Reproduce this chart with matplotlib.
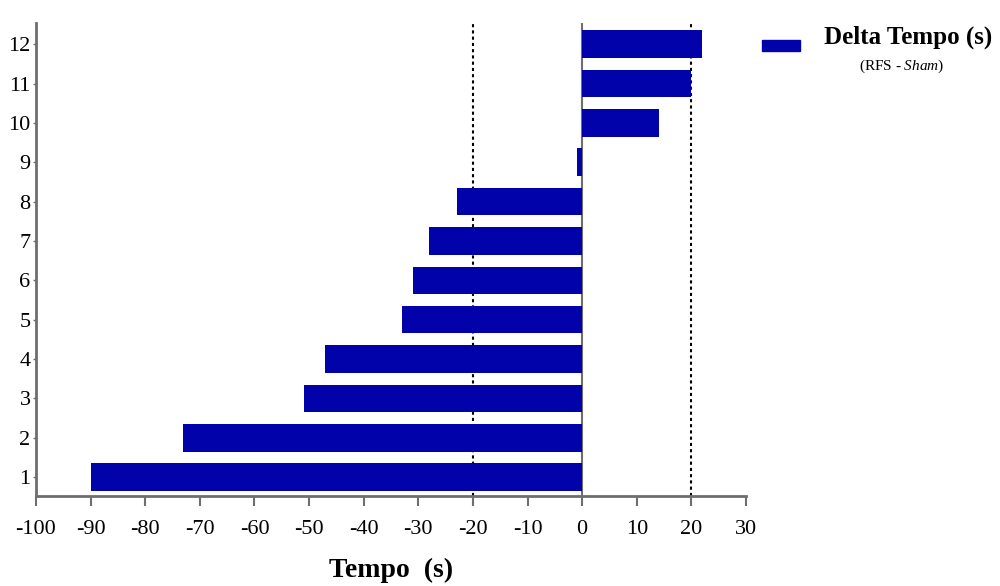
import matplotlib
matplotlib.use("Agg")
import matplotlib.pyplot as plt
from matplotlib.patches import Rectangle

# ── dados ──────────────────────────────────────────────────────────────────
sujeitos = [1, 2, 3, 4, 5, 6, 7, 8, 9, 10, 11, 12]
delta_tempo = [-90, -73, -51, -47, -33, -31, -28, -23, -1, 14, 20, 22]
x_ticks = [-100, -90, -80, -70, -60, -50, -40, -30, -20, -10, 0, 10, 20, 30]
linhas_ref = [-20, 20]

plt.rcParams["font.family"] = ["Liberation Serif", "DejaVu Serif"]
plt.rcParams["mathtext.fontset"] = "custom"
plt.rcParams["mathtext.rm"] = "Liberation Serif"
plt.rcParams["mathtext.it"] = "Liberation Serif:italic"

AZUL = "#0202AA"
CINZA = "#6e6e6e"

fig = plt.figure(figsize=(10, 5.86), dpi=100)
ax = fig.add_axes([0.036, 0.1536, 0.71, 0.808])

for xv in linhas_ref:
    ax.axvline(xv, color="black", linestyle=(0, (1.5, 1.5)), linewidth=1.5, zorder=1)
ax.axvline(0, color=CINZA, linewidth=1.5, zorder=1)

ax.barh(sujeitos, delta_tempo, height=0.7, color=AZUL, zorder=2)

ax.set_xlim(-100, 30)
ax.set_ylim(0.52, 12.55)
ax.set_xticks(x_ticks)
ax.set_xticklabels([str(v) for v in x_ticks], fontsize=16)
ax.set_yticks(sujeitos)
ax.set_yticklabels([str(v) for v in sujeitos], fontsize=16)

for side in ("top", "right"):
    ax.spines[side].set_visible(False)
for side in ("left", "bottom"):
    ax.spines[side].set_color(CINZA)
    ax.spines[side].set_linewidth(2)
ax.tick_params(axis="x", direction="out", length=7, width=1.5, color=CINZA, pad=10)
ax.tick_params(axis="y", direction="out", length=2, width=1, color=CINZA, pad=2)

ax.set_xlabel("Tempo  (s)", fontsize=20, fontweight="bold", labelpad=14)

# ── legenda manual ─────────────────────────────────────────────────────────
fig.patches.append(Rectangle((0.762, 1 - 51 / 586), 0.038, 11 / 586,
                             transform=fig.transFigure, color=AZUL))
fig.text(0.908, 1 - 37 / 586, "Delta Tempo (s)", fontsize=18, fontweight="bold",
         ha="center", va="center")
fig.text(0.902, 1 - 66 / 586, r"(RFS - $\mathit{Sham}$)", fontsize=11,
         ha="center", va="center")

fig.savefig("out.png", dpi=100, facecolor="white")
